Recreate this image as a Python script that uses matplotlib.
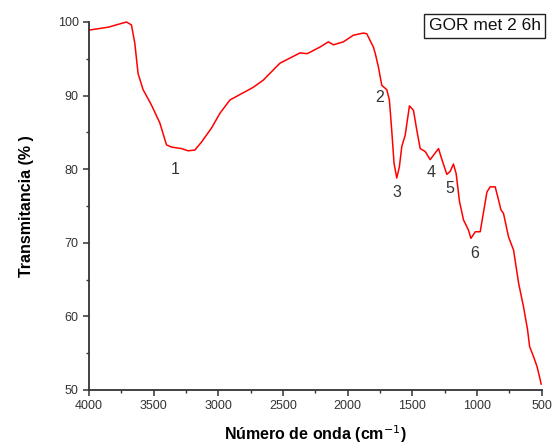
import matplotlib.pyplot as plt
from matplotlib.ticker import MultipleLocator

plt.rcParams['font.family'] = ['Liberation Sans', 'DejaVu Sans']

# FTIR spectrum, wavenumber (cm-1) vs transmittance (%)
wavenumber = [4000, 3850, 3711, 3672, 3646, 3621, 3582, 3517, 3453, 3401, 3362, 3285, 3234,
              3182, 3130, 3053, 2988, 2911, 2733, 2653, 2547, 2524, 2369, 2313, 2214, 2150,
              2111, 2034, 1957, 1879, 1853, 1802, 1787, 1763, 1737, 1698, 1678, 1660, 1642,
              1621, 1601, 1582, 1556, 1523, 1492, 1466, 1440, 1401, 1363, 1324, 1298, 1272,
              1234, 1208, 1183, 1162, 1136, 1105, 1066, 1048, 1014, 976, 950, 924, 899, 860,
              834, 816, 796, 757, 718, 679, 641, 610, 594, 563, 537, 512, 505]
transmittance = [98.9, 99.3, 100.0, 99.6, 97.1, 93.0, 90.8, 88.7, 86.3, 83.3, 83.0, 82.8, 82.5,
                 82.6, 83.7, 85.6, 87.6, 89.4, 91.1, 92.1, 94.0, 94.4, 95.8, 95.7, 96.6, 97.3,
                 96.9, 97.3, 98.2, 98.5, 98.4, 96.6, 95.7, 93.9, 91.4, 90.8, 89.4, 85.3, 80.8,
                 78.8, 80.3, 83.1, 84.6, 88.6, 88.0, 85.3, 82.8, 82.4, 81.3, 82.2, 82.8, 81.3,
                 79.3, 79.7, 80.7, 79.4, 75.6, 73.1, 71.7, 70.6, 71.5, 71.5, 74.2, 76.9, 77.6,
                 77.6, 75.8, 74.5, 74.0, 70.8, 69.0, 64.5, 61.3, 58.2, 55.9, 54.5, 53.2, 51.4,
                 50.8]

# band labels and where they sit
band_labels = ['1', '2', '3', '4', '5', '6']
band_x = [3336, 1750, 1618, 1355, 1214, 1020]
band_y = [80.0, 89.7, 76.9, 79.6, 77.4, 68.5]

fig = plt.figure(figsize=(5.53, 4.48), dpi=100)
ax = fig.add_axes([0.161, 0.1295, 0.8187, 0.8214])

ax.plot(wavenumber, transmittance, color='#ff0000', lw=1.1, clip_on=False)

for lab, x, y in zip(band_labels, band_x, band_y):
    ax.text(x, y, lab, ha='center', va='center', fontsize=11.5, color='#333333')

ax.set_xlim(4000, 500)
ax.set_ylim(50, 100)
ax.xaxis.set_major_locator(MultipleLocator(500))
ax.xaxis.set_minor_locator(MultipleLocator(250))
ax.yaxis.set_major_locator(MultipleLocator(10))
ax.yaxis.set_minor_locator(MultipleLocator(5))

for side in ['top', 'right']:
    ax.spines[side].set_visible(False)
for side in ['left', 'bottom']:
    ax.spines[side].set_linewidth(1.3)
    ax.spines[side].set_color('#333333')

ax.tick_params(which='major', direction='out', length=4, width=1.1, color='#333333',
               labelsize=9, labelcolor='#333333')
ax.tick_params(which='minor', direction='out', length=2.5, width=1.0, color='#333333')

ax.set_xlabel('Número de onda (cm$^{-1}$)', fontsize=11.5, fontweight='bold', labelpad=8)
ax.set_ylabel('Transmitancia (% )', fontsize=11.5, fontweight='bold', labelpad=17)

fig.text(0.978, 0.942, 'GOR met 2 6h', ha='right', va='center', fontsize=12.5,
         color='#111111',
         bbox=dict(boxstyle='square,pad=0.25', fc='white', ec='#222222', lw=1.0))

fig.savefig('out.png', dpi=100)
